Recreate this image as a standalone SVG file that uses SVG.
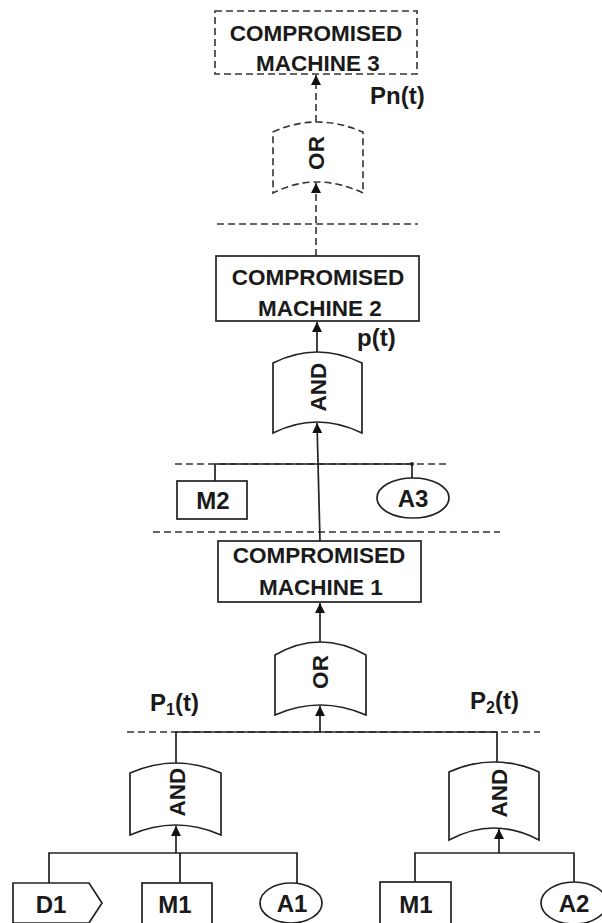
<svg xmlns="http://www.w3.org/2000/svg" width="602" height="923" viewBox="0 0 602 923">
  <defs>
    <marker id="arrow" viewBox="0 0 10 10" refX="10" refY="5" markerWidth="10" markerHeight="10" markerUnits="userSpaceOnUse" orient="auto">
      <path d="M0,0 L10,5 L0,10 Z" fill="#111"/>
    </marker>
    <style>
      text { font-family: "Liberation Sans", Arial, sans-serif; font-weight: bold; fill: #1a1a1a; }
      .t { font-size: 22.5px; text-anchor: middle; }
      .leaf { font-size: 24px; text-anchor: middle; }
      .lbl { font-size: 24px; }
      .box { fill: #fff; stroke: #222; stroke-width: 1.7; }
      .dbox { fill: #fff; stroke: #333; stroke-width: 1.6; stroke-dasharray: 7 4; }
      .ln { fill: none; stroke: #222; stroke-width: 1.7; }
      .dln { fill: none; stroke: #333; stroke-width: 1.6; stroke-dasharray: 7 4; }
      .gate { dominant-baseline: central; }
    </style>
  </defs>

  <!-- level separators -->
  <g id="separators">
    <line class="dln" x1="217" y1="224" x2="418" y2="224"/>
    <line class="dln" x1="175" y1="464" x2="450" y2="464"/>
    <line class="dln" x1="153" y1="532" x2="500" y2="532"/>
    <line class="dln" x1="127" y1="732" x2="540" y2="732"/>
  </g>

  <!-- connectors -->
  <g id="connectors">
    <line class="dln" x1="316" y1="122" x2="316" y2="75" marker-end="url(#arrow)"/>
    <line class="dln" x1="316" y1="256" x2="316" y2="183" marker-end="url(#arrow)"/>
    <line class="ln" x1="317" y1="352" x2="317" y2="322" marker-end="url(#arrow)"/>
    <line class="ln" x1="320" y1="541" x2="317" y2="423" marker-end="url(#arrow)"/>
    <polyline class="ln" points="215,481 215,464 412,464 412,478"/>
    <circle cx="412" cy="464" r="2" fill="#222"/>
    <line class="ln" x1="320" y1="642" x2="320" y2="603" marker-end="url(#arrow)"/>
    <line class="ln" x1="320" y1="732" x2="320" y2="706" marker-end="url(#arrow)"/>
    <polyline class="ln" points="176,763 176,732 497,732 497,762"/>
    <line class="ln" x1="176" y1="853" x2="176" y2="826" marker-end="url(#arrow)"/>
    <line class="ln" x1="499" y1="853" x2="499" y2="829" marker-end="url(#arrow)"/>
    <polyline class="ln" points="49,883 49,853 297,853 297,885"/>
    <line class="ln" x1="180" y1="853" x2="180" y2="883"/>
    <polyline class="ln" points="415,882 415,853 574,853 574,885"/>
  </g>

  <!-- compromised machines -->
  <g id="machine3">
    <rect class="dbox" x="215" y="11" width="202" height="63"/>
    <text class="t" x="316" y="41">COMPROMISED</text>
    <text class="t" x="318" y="71">MACHINE 3</text>
  </g>
  <g id="machine2">
    <rect class="box" x="216" y="256" width="203" height="65"/>
    <text class="t" x="318" y="285">COMPROMISED</text>
    <text class="t" x="320" y="316">MACHINE 2</text>
  </g>
  <g id="machine1">
    <rect class="box" x="218" y="541" width="203" height="61"/>
    <text class="t" x="319" y="563">COMPROMISED</text>
    <text class="t" x="321" y="595">MACHINE 1</text>
  </g>

  <!-- gates -->
  <g id="gate-or-top">
    <path class="dbox" d="M273,132 Q316,112 363,132 L363,193 Q316,171 273,193 Z"/>
    <text class="t gate" transform="translate(316,153) rotate(-90)">OR</text>
  </g>
  <g id="gate-and-mid">
    <path class="box" d="M273,363 Q317,341 362,363 L362,433 Q317,411 273,433 Z"/>
    <text class="t gate" transform="translate(318,387) rotate(-90)">AND</text>
  </g>
  <g id="gate-or-low">
    <path class="box" d="M275,655 Q320,629 366,655 L366,715 Q320,695 275,715 Z"/>
    <text class="t gate" transform="translate(320,672) rotate(-90)">OR</text>
  </g>
  <g id="gate-and-left">
    <path class="box" d="M130,773 Q176,753 221,773 L221,835 Q176,815 130,835 Z"/>
    <text class="t gate" transform="translate(177,792) rotate(-90)">AND</text>
  </g>
  <g id="gate-and-right">
    <path class="box" d="M449,772 Q494,752 539,772 L539,840 Q494,816 449,840 Z"/>
    <text class="t gate" transform="translate(499,793) rotate(-90)">AND</text>
  </g>

  <!-- basic events -->
  <g id="m2">
    <rect class="box" x="177" y="481" width="70" height="38"/>
    <text class="leaf" x="213" y="509">M2</text>
  </g>
  <g id="a3">
    <ellipse class="box" cx="413" cy="498" rx="36" ry="20"/>
    <text class="leaf" x="413" y="507">A3</text>
  </g>
  <g id="d1">
    <polygon class="box" points="13,883 89,883 102,903 89,923 13,923"/>
    <text class="leaf" x="51" y="913">D1</text>
  </g>
  <g id="m1-left">
    <rect class="box" x="142" y="883" width="70" height="42"/>
    <text class="leaf" x="175" y="913">M1</text>
  </g>
  <g id="a1">
    <ellipse class="box" cx="291" cy="903" rx="31" ry="20"/>
    <text class="leaf" x="292" y="912">A1</text>
  </g>
  <g id="m1-right">
    <rect class="box" x="380" y="882" width="71" height="43"/>
    <text class="leaf" x="416" y="913">M1</text>
  </g>
  <g id="a2">
    <ellipse class="box" cx="574" cy="903" rx="33" ry="21"/>
    <text class="leaf" x="574" y="912">A2</text>
  </g>

  <!-- probability labels -->
  <g id="labels">
    <text class="lbl" x="370" y="104">Pn(t)</text>
    <text class="lbl" x="357" y="346">p(t)</text>
    <text class="lbl" x="150" y="711">P<tspan font-size="16" dy="4">1</tspan><tspan dy="-4">(t)</tspan></text>
    <text class="lbl" x="470" y="709">P<tspan font-size="16" dy="4">2</tspan><tspan dy="-4">(t)</tspan></text>
  </g>
</svg>
